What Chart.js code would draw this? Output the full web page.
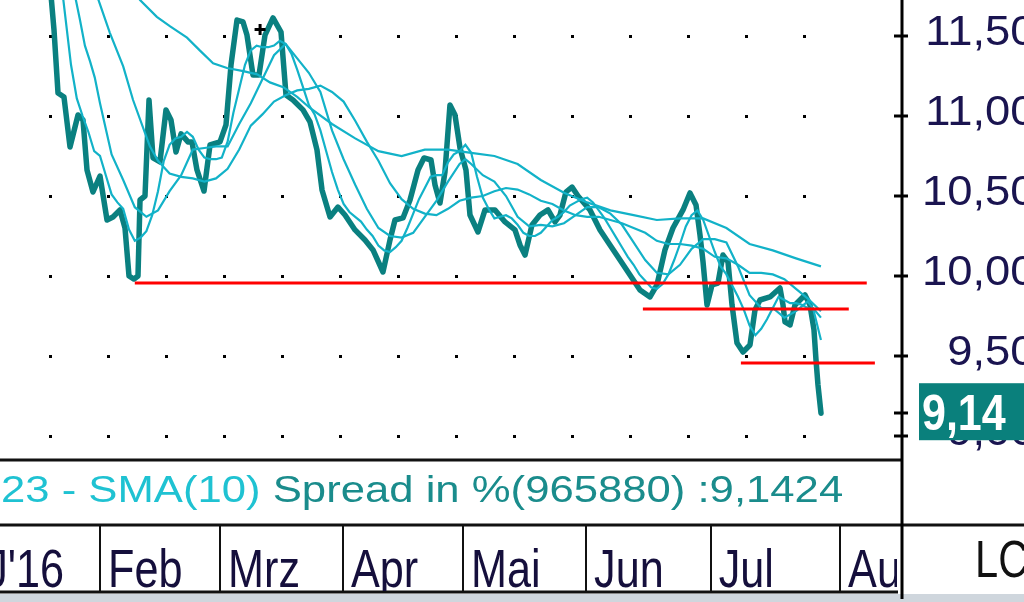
<!DOCTYPE html>
<html>
<head>
<meta charset="utf-8">
<script src="https://cdn.jsdelivr.net/npm/chart.js"></script>
<style>
html,body{margin:0;padding:0;background:#ffffff;overflow:hidden}
#wrap{width:1024px;height:602px;position:relative}
</style>
</head>
<body>
<div id="wrap"><canvas id="c" width="1024" height="602"></canvas></div>
<script>
// x values: trading sessions counted from 1 Feb 2016 (session 0); y values: price in EUR
const pricePoints = [[-8.97,11.975],[-7.93,11.538],[-7.24,11.144],[-6.21,11.119],[-5.17,10.806],[-3.79,11.006],[-2.93,10.975],[-2.24,10.663],[-1.21,10.525],[0,10.625],[1.21,10.35],[2.24,10.369],[3.45,10.413],[4.31,10.3],[5.0,10.0],[5.86,9.981],[6.55,10.0],[6.9,10.475],[7.76,10.5],[8.45,11.1],[9.14,10.738],[10.34,10.713],[11.38,11.038],[12.24,10.975],[13.1,10.775],[13.97,10.888],[15.17,10.838],[15.86,10.838],[16.72,10.663],[17.93,10.531],[18.97,10.819],[20.69,10.838],[21.72,10.944],[22.59,11.319],[23.62,11.6],[24.66,11.588],[25.34,11.506],[26.38,11.256],[27.41,11.256],[28.45,11.506],[29.83,11.613],[31.21,11.525],[32.07,11.131],[33.28,11.1],[35.0,11.038],[36.21,10.963],[37.41,10.788],[38.28,10.538],[39.66,10.369],[41.03,10.431],[42.24,10.381],[43.97,10.288],[45.69,10.225],[47.07,10.163],[48.79,10.025],[50.0,10.225],[50.86,10.35],[52.24,10.363],[53.45,10.475],[54.83,10.663],[55.86,10.738],[57.07,10.725],[57.76,10.569],[58.62,10.456],[59.48,10.65],[60.34,11.069],[61.21,11.006],[62.07,10.8],[63.1,10.663],[63.79,10.381],[65.17,10.275],[66.38,10.413],[68.1,10.413],[69.83,10.338],[71.55,10.288],[72.41,10.194],[73.28,10.131],[74.48,10.319],[75.86,10.381],[77.24,10.413],[78.45,10.338],[79.31,10.381],[80.34,10.525],[81.38,10.556],[82.41,10.5],[84.48,10.413],[86.21,10.288],[87.93,10.194],[89.66,10.1],[91.38,10.006],[93.1,9.913],[94.83,9.869],[96.03,9.944],[97.41,10.163],[98.79,10.3],[100.52,10.413],[101.72,10.519],[102.76,10.444],[103.45,10.256],[103.97,10.088],[104.66,9.819],[105.52,9.944],[106.55,9.956],[107.41,10.131],[108.28,10.088],[108.97,9.819],[109.83,9.581],[110.86,9.525],[112.07,9.569],[112.93,9.788],[113.79,9.85],[115.52,9.869],[117.24,9.925],[117.76,9.819],[118.1,9.713],[118.97,9.694],[119.83,9.819],[121.55,9.881],[122.41,9.819],[123.1,9.663],[123.45,9.475],[123.79,9.319],[124.31,9.1424]];

const sma5Points = [[-6.4,11.75],[-5,11.32],[-4,11.11],[-3,11.00],[-2,10.90],[-1,10.78],[0,10.75],[1,10.63],[2,10.51],[3,10.46],[4,10.42],[5,10.29],[6,10.22],[7,10.24],[8,10.28],[9,10.38],[10,10.53],[11,10.72],[12,10.82],[13,10.86],[14,10.87],[15,10.90],[16,10.87],[17,10.79],[18,10.74],[19,10.73],[20,10.73],[21,10.74],[22,10.84],[23,11.02],[24,11.17],[25,11.32],[26,11.41],[27,11.44],[28,11.43],[29,11.43],[30,11.44],[31,11.47],[32,11.45],[33,11.39],[34,11.29],[35,11.18],[36,11.07],[37,11.01],[38,10.91],[39,10.78],[40,10.65],[41,10.54],[42,10.45],[43,10.40],[44,10.37],[45,10.34],[46,10.29],[47,10.25],[48,10.19],[49,10.16],[50,10.15],[51,10.18],[52,10.22],[53,10.30],[54,10.39],[55,10.48],[56,10.55],[57,10.62],[58,10.63],[59,10.63],[60,10.71],[61,10.76],[62,10.78],[63,10.82],[64,10.77],[65,10.62],[66,10.49],[67,10.42],[68,10.36],[69,10.37],[70,10.38],[71,10.36],[72,10.32],[73,10.27],[74,10.25],[75,10.25],[76,10.27],[77,10.31],[78,10.35],[79,10.37],[80,10.40],[81,10.44],[82,10.46],[83,10.48],[84,10.49],[85,10.46],[86,10.41],[87,10.36],[88,10.30],[89,10.24],[90,10.18],[91,10.12],[92,10.07],[93,10.01],[94,9.97],[95,9.93],[96,9.92],[97,9.95],[98,10.01],[99,10.10],[100,10.20],[101,10.31],[102,10.38],[103,10.41],[104,10.35],[105,10.25],[106,10.15],[107,10.06],[108,10.01],[109,9.94],[110,9.87],[111,9.79],[112,9.69],[113,9.63],[114,9.67],[115,9.73],[116,9.80],[117,9.87],[118,9.85],[119,9.83],[120,9.83],[121,9.82],[122,9.80],[123,9.79],[124.3,9.60]];

const sma10Points = [[-4.3,11.75],[-3.45,11.60],[-2.6,11.44],[-1.7,11.34],[-0.9,11.24],[0,11.08],[2,10.76],[4,10.60],[6,10.43],[8,10.37],[10,10.41],[12,10.53],[14,10.63],[16,10.79],[18,10.80],[20,10.81],[22,10.81],[24,10.95],[26,11.08],[28,11.23],[30,11.38],[32,11.45],[34,11.36],[36,11.27],[38,11.15],[40,10.91],[42,10.73],[44,10.57],[46,10.42],[48,10.30],[50,10.25],[52,10.24],[54,10.27],[56,10.37],[58,10.47],[60,10.59],[62,10.70],[63,10.73],[64,10.70],[66,10.63],[68,10.59],[70,10.50],[72,10.37],[74,10.31],[76,10.32],[78,10.31],[80,10.33],[82,10.38],[84,10.43],[86,10.43],[88,10.39],[90,10.32],[92,10.21],[94,10.10],[96,10.02],[98,10.01],[100,10.07],[102,10.17],[104,10.23],[106,10.23],[108,10.21],[110,10.06],[112,9.88],[114,9.80],[116,9.80],[118,9.74],[120,9.78],[122,9.84],[124.3,9.74]];

const sma20Points = [[-0.5,11.75],[1.7,11.52],[4,11.31],[5.7,11.10],[7.8,10.89],[8.6,10.81],[10,10.72],[12,10.64],[14,10.62],[16,10.61],[18,10.59],[20,10.61],[22,10.67],[24,10.79],[26,10.94],[28,11.01],[30,11.09],[32,11.13],[34,11.16],[36,11.17],[38,11.19],[40,11.15],[42,11.09],[44,10.97],[46,10.84],[48,10.72],[50,10.58],[52,10.48],[54,10.42],[56,10.39],[58,10.38],[60,10.42],[62,10.47],[64,10.49],[66,10.50],[68,10.53],[70,10.55],[72,10.54],[74,10.51],[76,10.47],[78,10.45],[80,10.41],[82,10.38],[84,10.37],[86,10.37],[88,10.35],[90,10.33],[92,10.30],[94,10.27],[96,10.22],[98,10.20],[100,10.20],[102,10.19],[104,10.17],[106,10.12],[108,10.11],[110,10.07],[112,10.02],[114,10.02],[116,10.01],[118,9.98],[120,9.92],[122,9.86],[124.3,9.78]];

const sma50Points = [[5.5,11.80],[6.9,11.725],[9.8,11.62],[12.1,11.56],[15,11.49],[17.2,11.41],[19.5,11.33],[21.9,11.30],[24.7,11.28],[27.1,11.26],[29.3,11.21],[31.6,11.18],[34,11.12],[36.2,11.05],[40,10.95],[44,10.86],[48,10.78],[52,10.75],[56,10.79],[60,10.79],[64,10.77],[68,10.75],[72,10.70],[76,10.60],[80,10.52],[84,10.46],[88,10.41],[92,10.38],[96,10.35],[100,10.36],[104,10.36],[108,10.30],[112,10.20],[116,10.16],[120,10.11],[124.3,10.06]];

// red support lines: level, first session, last session
const supportLevels = [9.956, 9.794, 9.456];
const supportFrom = [6.0, 93.6, 110.5];
const supportTo = [132.2, 129.1, 133.6];

const cursorPoint = [27.6, 11.54];

const yTickValues = [9.0, 9.5, 10.0, 10.5, 11.0, 11.5];
const yTickLabels = ['9,00', '9,50', '10,00', '10,50', '11,00', '11,50'];
const lastValue = 9.1424;
const lastLabel = '9,14';

const monthStarts = [-21, 0, 20.7, 41.9, 62.6, 83.8, 105.3, 127.6];
const monthLabels = ["J'16", 'Feb', 'Mrz', 'Apr', 'Mai', 'Jun', 'Jul', 'Aug'];
const gridSessions = [-8.6, 1.4, 11.4, 21.4, 31.4, 41.4, 51.4, 61.4, 71.4, 81.4, 91.4, 101.4, 111.4, 121.4];

const legendPrefix = '23 - SMA(10)';
const legendRest = 'Spread in %(965880) :9,1424';
const cornerLabel = 'LC';

const xMin = -17.241, xMax = 138.276;
const yMin = 8.85, yMax = 11.725;

const FONT = '"Liberation Sans", Arial, Helvetica, sans-serif';
const toXY = arr => arr.map(p => ({x: p[0], y: p[1]}));
const smaColor = '#12b2c8';

const datasets = [];
supportLevels.forEach((lvl, i) => {
  datasets.push({type: 'line', data: [{x: supportFrom[i], y: lvl}, {x: supportTo[i], y: lvl}],
    borderColor: '#ff0000', borderWidth: 3, pointRadius: 0, order: 0});
});
datasets.push({type: 'scatter', data: [{x: cursorPoint[0], y: cursorPoint[1]}], pointStyle: 'cross',
  pointRadius: 5.5, borderColor: '#000000', backgroundColor: '#000000', pointBorderWidth: 3, order: 0});
[sma5Points, sma10Points, sma20Points, sma50Points].forEach(arr => {
  datasets.push({type: 'line', data: toXY(arr), borderColor: smaColor, borderWidth: 2.2,
    pointRadius: 0, tension: 0, order: 1});
});
datasets.push({type: 'line', data: toXY(pricePoints), borderColor: '#0a8080', borderWidth: 5.5,
  borderJoinStyle: 'round', borderCapStyle: 'round', pointRadius: 0, tension: 0, order: 2});

// draws text whose glyphs are narrowed / widened horizontally
function scaledText(ctx, text, x, y, sx) {
  ctx.save();
  ctx.translate(x, y);
  ctx.scale(sx, 1);
  ctx.fillText(text, 0, 0);
  ctx.restore();
}

const framePlugin = {
  id: 'frame',
  beforeDatasetsDraw(chart) {
    const {ctx, scales: {x, y}} = chart;
    ctx.save();
    ctx.fillStyle = '#000000';
    gridSessions.forEach(t => {
      const px = Math.round(x.getPixelForValue(t));
      yTickValues.forEach(v => {
        const py = Math.round(y.getPixelForValue(v));
        ctx.fillRect(px - 1, py - 1, 3, 3);
      });
    });
    ctx.restore();
  },
  afterDraw(chart) {
    const {ctx, scales: {x, y}, chartArea: a} = chart;
    const W = chart.width, H = chart.height;
    const seg = (x1, y1, x2, y2, w, c) => {
      ctx.beginPath(); ctx.lineWidth = w; ctx.strokeStyle = c || '#111111';
      ctx.moveTo(x1, y1); ctx.lineTo(x2, y2); ctx.stroke();
    };
    ctx.save();
    ctx.textBaseline = 'alphabetic';
    // bottom strip
    ctx.fillStyle = '#cfd6dd';
    ctx.fillRect(0, H - 8, W, 8);
    // panel rules
    const rowTop = a.bottom + 65, rowBot = a.bottom + 132;
    seg(0, a.bottom, a.right, a.bottom, 3);
    seg(0, rowTop, W, rowTop, 3);
    seg(0, rowBot, a.right - 4, rowBot, 3);
    // month separators and labels
    monthStarts.forEach(t => {
      const px = Math.round(x.getPixelForValue(t));
      if (px > 0 && px < a.right) seg(px, rowTop, px, rowBot, 2);
    });
    ctx.save();
    ctx.beginPath(); ctx.rect(0, rowTop + 1, a.right - 5, rowBot - rowTop - 2); ctx.clip();
    ctx.font = '54px ' + FONT;
    ctx.fillStyle = '#150f3c';
    ctx.textAlign = 'left';
    monthLabels.forEach((lab, i) => {
      const px = x.getPixelForValue(monthStarts[i]) + 8;
      scaledText(ctx, lab, px, rowBot - 5, 0.8);
    });
    ctx.restore();
    // corner label
    ctx.font = '52px ' + FONT;
    ctx.fillStyle = '#111111';
    ctx.textAlign = 'left';
    scaledText(ctx, cornerLabel, a.right + 73, rowBot - 15, 0.8);
    // legend line
    ctx.save();
    ctx.translate(1, a.bottom + 42);
    ctx.scale(1.18, 1);
    ctx.font = '37px ' + FONT;
    ctx.textAlign = 'left';
    ctx.fillStyle = '#1fc2d2';
    const pre = legendPrefix + ' ';
    ctx.fillText(pre, 0, 0);
    const w = ctx.measureText(pre).width;
    ctx.fillStyle = '#1a8c8c';
    ctx.fillText(legendRest, w, 0);
    ctx.restore();
    // right axis labels
    ctx.font = '42px ' + FONT;
    ctx.fillStyle = '#1a1450';
    ctx.textAlign = 'right';
    yTickValues.forEach((v, i) => {
      const py = y.getPixelForValue(v);
      scaledText(ctx, yTickLabels[i], a.right + 133.5, py + 8.5, 1.08);
    });
    seg(a.right, 0, a.right, H - 3, 3, '#000000');
    yTickValues.concat([lastValue]).forEach(v => {
      const py = Math.round(y.getPixelForValue(v));
      seg(a.right - 8, py, a.right + 6, py, 3, '#000000');
    });
    // last value box
    const ly = y.getPixelForValue(lastValue);
    ctx.fillStyle = '#0a807c';
    ctx.fillRect(a.right + 17, ly - 30, W - a.right - 17, 57);
    ctx.font = 'bold 50px ' + FONT;
    ctx.fillStyle = '#ffffff';
    ctx.textAlign = 'left';
    scaledText(ctx, lastLabel, a.right + 20, ly + 17, 0.86);
    ctx.restore();
  }
};

new Chart(document.getElementById('c'), {
  data: {datasets},
  options: {
    responsive: false,
    animation: false,
    events: [],
    layout: {autoPadding: false, padding: {left: 0, top: 0, right: 122, bottom: 142}},
    plugins: {legend: {display: false}, tooltip: {enabled: false}},
    scales: {
      x: {type: 'linear', display: false, min: xMin, max: xMax},
      y: {type: 'linear', display: false, min: yMin, max: yMax}
    }
  },
  plugins: [framePlugin]
});
</script>
</body>
</html>
